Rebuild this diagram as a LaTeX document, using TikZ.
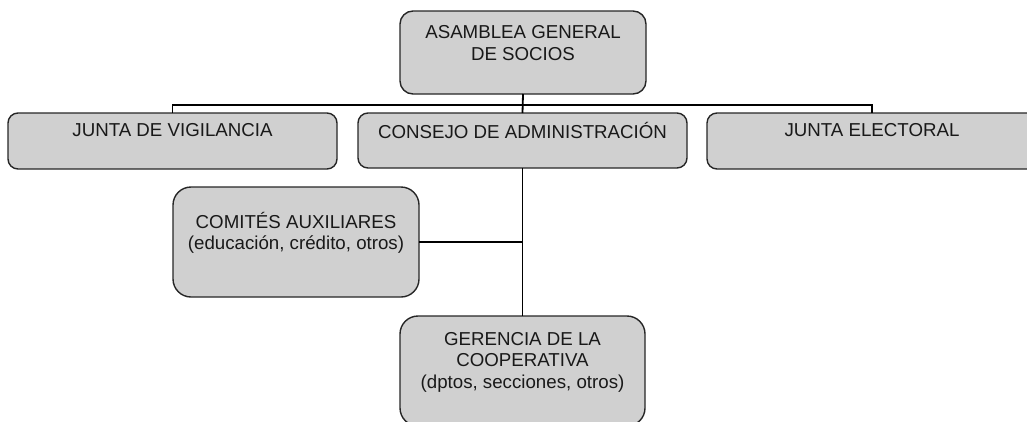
\documentclass[tikz,border=0pt]{standalone}
\usepackage{fontspec}
\setmainfont{Liberation Sans}
\begin{document}
\begin{tikzpicture}[x=1pt,y=-1pt,
  box/.style={draw=black!85, line width=1.4pt, fill=boxgray, inner sep=0pt, outer sep=0pt},
  txt/.style={font=\fontsize{18.7}{21.6}\selectfont, align=center, anchor=north, inner sep=0pt, text=black!90},
  conn/.style={draw=black, line width=1.8pt}]
\definecolor{boxgray}{RGB}{208,208,208}
\useasboundingbox (0,0) rectangle (1027,421);
\clip (0,0) rectangle (1027,421);
% boxes
\node[box, minimum width=246pt, minimum height=83pt, rounded corners=13pt] (asam) at (523,52.5) {};
\node[box, minimum width=329pt, minimum height=56pt, rounded corners=10pt] (vig) at (172.5,141) {};
\node[box, minimum width=329pt, minimum height=55pt, rounded corners=10pt] (cons) at (522.5,140.5) {};
\node[box, minimum width=330pt, minimum height=56pt, rounded corners=10pt] (elec) at (872,141) {};
\node[box, minimum width=246pt, minimum height=110pt, rounded corners=18pt] (com) at (296,242) {};
\node[box, minimum width=245pt, minimum height=110pt, rounded corners=18pt] (ger) at (522.5,371) {};
% texts
\node[txt] (tasam) at (523,23.6) {\strut ASAMBLEA GENERAL\\DE SOCIOS};
\node[txt] (tvig) at (172.5,121.6) {\strut JUNTA DE VIGILANCIA};
\node[txt] (tcons) at (522.5,121.6) {\strut CONSEJO DE ADMINISTRACIÓN};
\node[txt] (telec) at (872,121.6) {\strut JUNTA ELECTORAL};
\node[txt] (tcom) at (296,211.6) {\strut COMITÉS AUXILIARES\\(educación, crédito, otros)};
\node[txt] (tger) at (522.5,330) {\strut GERENCIA DE LA\\COOPERATIVA\\(dptos, secciones, otros)};
% connectors
\coordinate (bus) at (523,105);
\draw[conn] (asam.south) -- (cons.north);
\draw[conn] (vig.north) |- (bus) -| (elec.north);
\draw[conn] (cons.south) -- (ger.north);
\draw[conn] (com.east) -- (com.east -| cons.south);
\end{tikzpicture}
\end{document}
